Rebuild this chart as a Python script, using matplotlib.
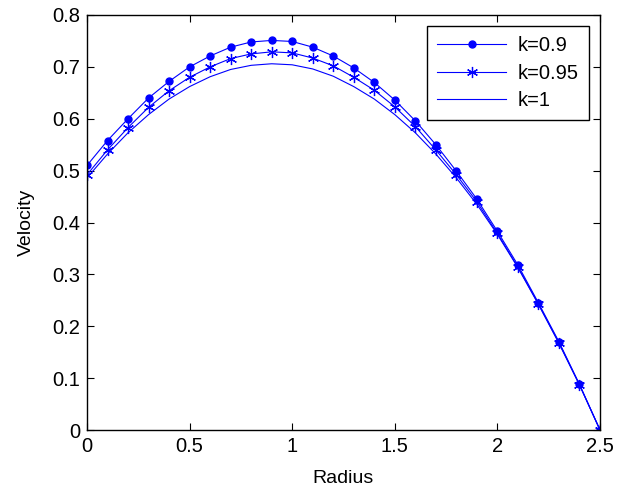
import matplotlib
matplotlib.use("Agg")
import matplotlib.pyplot as plt
import numpy as np

radius = [0.0, 0.1, 0.2, 0.3, 0.4, 0.5, 0.6, 0.7, 0.8, 0.9, 1.0, 1.1, 1.2,
          1.3, 1.4, 1.5, 1.6, 1.7, 1.8, 1.9, 2.0, 2.1, 2.2, 2.3, 2.4, 2.5]
v_k090 = [0.510, 0.558, 0.600, 0.640, 0.672, 0.700, 0.721, 0.738, 0.748, 0.751,
          0.749, 0.738, 0.721, 0.698, 0.670, 0.636, 0.596, 0.550, 0.499, 0.445,
          0.383, 0.318, 0.245, 0.170, 0.088, 0.0]
v_k095 = [0.492, 0.540, 0.583, 0.622, 0.654, 0.680, 0.700, 0.716, 0.725, 0.729,
          0.727, 0.717, 0.702, 0.680, 0.655, 0.623, 0.585, 0.540, 0.492, 0.440,
          0.379, 0.314, 0.243, 0.168, 0.087, 0.0]
v_k100 = [0.486, 0.532, 0.573, 0.608, 0.638, 0.662, 0.681, 0.695, 0.703, 0.706,
          0.704, 0.696, 0.682, 0.662, 0.638, 0.608, 0.573, 0.532, 0.486, 0.435,
          0.377, 0.313, 0.242, 0.167, 0.087, 0.0]
labels = ["k=0.9", "k=0.95", "k=1"]
xticks = [0, 0.5, 1, 1.5, 2, 2.5]
yticks = [0, 0.1, 0.2, 0.3, 0.4, 0.5, 0.6, 0.7, 0.8]

plt.rcParams['font.family'] = ['Liberation Sans', 'DejaVu Sans']

fig = plt.figure(figsize=(6.3, 4.91), dpi=100)
ax = fig.add_axes([87/630, 1 - 430/491, (600-87)/630, (430-15)/491])

blue = '#0000ff'
ax.plot(radius, v_k090, color=blue, lw=0.8, marker='o', ms=5, label=labels[0])
ax.plot(radius, v_k095, color=blue, lw=0.8, marker=(6, 2, 0), ms=8, markeredgewidth=0.9,
        label=labels[1])
ax.plot(radius, v_k100, color=blue, lw=0.8, label=labels[2])

ax.set_xlim(0, 2.5)
ax.set_ylim(0, 0.8)
ax.set_xticks(xticks)
ax.set_xticklabels([f"{t:g}" for t in xticks])
ax.set_yticks(yticks)
ax.set_yticklabels([f"{t:g}" for t in yticks])
ax.tick_params(direction='in', top=True, right=True, labelsize=14.5, length=5, width=0.8, pad=5)
for s in ax.spines.values():
    s.set_linewidth(1.0)
ax.set_xlabel("Radius", fontsize=14, labelpad=10)
ax.set_ylabel("Velocity", fontsize=14, labelpad=12)

leg = ax.legend(loc='upper right', fontsize=14.5, frameon=True, fancybox=False,
                edgecolor='black', framealpha=1, borderaxespad=0.55,
                handlelength=3.4, handletextpad=0.6, labelspacing=0.42, borderpad=0.5)
leg.get_frame().set_linewidth(1.0)

fig.savefig("out.png", dpi=100)
